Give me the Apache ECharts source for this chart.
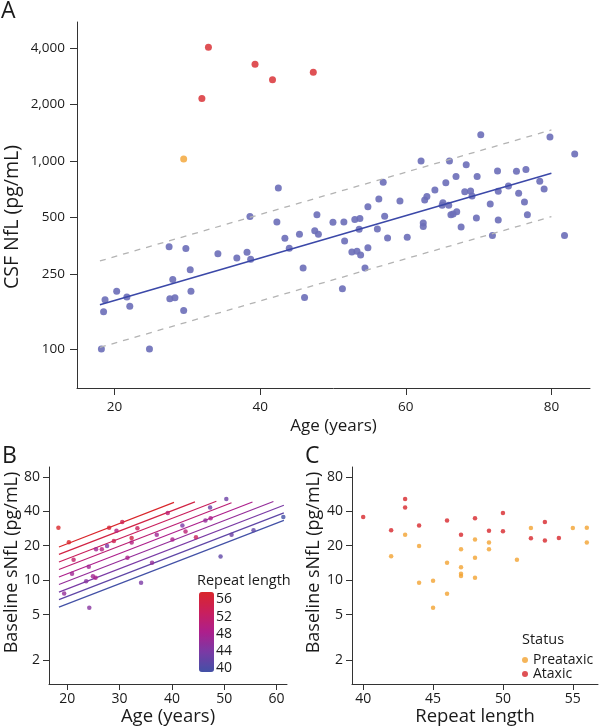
<!DOCTYPE html>
<html><head><meta charset="utf-8">
<script src="https://cdn.jsdelivr.net/npm/echarts@6/dist/echarts.min.js"></script>
<style>html,body{margin:0;padding:0;background:#fff}#c{width:600px;height:728px}</style>
</head><body><div id="c"></div>
<script>
const FONT = '"Open Sans", "Noto Sans", sans-serif';
const INK = '#1a1a1a';

// ---------- Panel A: CSF NfL vs age ----------
const aAge = [18.2,18.7,18.5,20.3,21.7,22.1,24.8,27.5,27.6,28.3,28.0,29.5,29.8,30.4,30.5,34.2,36.8,38.2,38.7,38.6,42.3,43.4,44.0,45.4,42.5,
  45.9,46.1,47.5,48.0,47.8,50.0,51.5,51.6,51.3,52.6,53.3,53.8,54.4,53.0,53.7,53.6,54.8,54.8,56.3,56.1,56.9,57.1,57.5,59.2,60.2,
  62.1,62.4,62.4,62.6,62.9,64.0,65.1,65.0,65.9,65.5,66.0,66.2,66.5,67.0,67.6,66.9,68.1,68.3,68.9,69.1,69.8,69.7,70.3,71.6,71.9,
  72.6,72.7,72.7,74.1,75.2,75.5,76.3,76.5,76.7,78.4,79.0,79.8,81.8,83.2];
const aVal = [100,183,158,203,189,169,100,350,185,187,234,160,342,264,203,321,305,327,300,506,474,388,343,408,718,
  270,188,425,408,518,472,474,375,209,328,331,316,270,489,494,433,571,346,628,435,771,508,389,612,393,
  1000,468,448,621,648,701,600,581,581,767,1000,518,523,537,446,826,687,955,692,652,826,497,1380,590,401,
  885,690,486,736,881,673,605,900,518,780,710,1343,401,1089];
const redAge = [32.9,32.0,39.3,41.7,47.3];
const redVal = [4027,2153,3266,2706,2965];
const orangeAge = [29.5];
const orangeVal = [1025];
const fitAge = [18, 80];
const fitVal = [172, 861];
const upperVal = [294, 1462];
const lowerVal = [102, 506];
const aXTicks = [20, 40, 60, 80];
const aYTicks = [100, 250, 500, 1000, 2000, 4000];

// ---------- Panel B: baseline sNfL vs age, by repeat length ----------
const bAge = [18.3,20.3,21.2,20.9,19.4,24.1,23.6,24.9,25.4,24.2,25.5,26.6,27.6,28.0,28.9,29.4,30.5,31.5,32.3,32.3,33.4,34.1,36.2,37.1,39.2,40.1,42.0,42.6,44.6,46.4,47.3,47.4,49.3,50.4,51.4,55.6,61.3];
const bVal = [28.8,21.5,15.1,11.4,7.65,13.1,9.8,10.8,10.5,5.74,18.6,18.6,19.9,28.8,22.0,27.1,32.3,15.7,23.4,21.3,28.5,9.5,14.2,25.0,38.7,22.7,30.0,26.6,23.7,33.2,43.1,34.8,16.1,51.3,25.0,27.3,35.7];
const bRepeat = [56,56,51,47,46,47,45,47,48,45,47,49,44,55,53,49,53,48,54,49,52,44,46,47,50,48,44,50,52,46,43,48,42,43,43,42,40];
const lineRepeat = [40,42,44,46,48,50,52,54,56];
const lineStartAge = [18.4,18.4,18.4,18.4,18.4,18.4,18.4,18.4,18.4];
const lineStartVal = [5.81,6.76,7.87,9.16,10.67,12.4,14.4,16.8,19.5];
const lineEndAge = [61.4,61.4,61.4,59.4,55.4,51.4,48.5,44.4,40.4];
const lineEndVal = [33.3,38.8,45.2,48.7,48.2,47.5,49.0,48.4,47.9];
const bXTicks = [20, 30, 40, 50, 60];
const sYTicks = [2, 5, 10, 20, 40, 80];
const colorbarTicks = [56, 52, 48, 44, 40];

// ---------- Panel C: baseline sNfL vs repeat length, by status ----------
const cAtaxicRepeat = [40,42,43,43,44,46,47,48,49,50,50,52,53,53,54];
const cAtaxicVal = [35.7,27.3,51.3,43.1,30.0,33.2,25.0,34.8,27.1,38.7,26.8,23.2,32.3,22.2,23.4];
const cPreRepeat = [42,43,44,44,45,45,46,46,47,47,47,47,48,48,48,49,49,51,52,55,56,56];
const cPreVal = [16.2,25.0,19.9,9.5,9.87,5.74,14.2,7.6,18.6,13.0,11.4,10.9,22.7,15.7,10.5,21.3,18.6,15.1,28.6,28.6,28.8,21.3];
const cXTicks = [40, 45, 50, 55];

const repeatColors = ['#4351a6', '#7a3aa5', '#ad1f8c', '#c91f5c', '#d9262b'];
const RED = '#d7262b', ORANGE = '#f2a231', BLUEPT = '#6c6eb8', BLUELINE = '#3b48a8';

const zip = (a, b) => a.map((v, i) => [v, b[i]]);
const fmtThousands = v => String(v).replace(/\B(?=(\d{3})+(?!\d))/g, ',');

function axisBase(ticks, fs, margin, tickLen, nameFs, namePad) {
  return {
    axisLine: { show: true, onZero: false, lineStyle: { color: '#333', width: 1 } },
    axisTick: { show: true, customValues: ticks, length: tickLen, lineStyle: { color: '#333', width: 1 } },
    axisLabel: { show: true, customValues: ticks, fontSize: fs, color: INK, fontFamily: FONT, margin: margin },
    splitLine: { show: false },
    nameMoveOverlap: false,
    nameTextStyle: { fontSize: nameFs, color: INK, fontFamily: FONT, padding: namePad || 0 }
  };
}

const chart = echarts.init(document.getElementById('c'), null, { renderer: 'canvas' });

const xA = Object.assign(axisBase(aXTicks, 13.5, 12, 7, 17), { type: 'value', gridIndex: 0, min: 14.85, max: 85.3, name: 'Age (years)', nameLocation: 'middle', nameGap: 30 });
const yA = Object.assign(axisBase(aYTicks, 13.5, 12, 7, 19.5, [0, 24, 0, 0]), { type: 'log', gridIndex: 0, min: 62, max: 5487, name: 'CSF NfL (pg/mL)', nameLocation: 'middle', nameGap: 55 });
yA.axisLabel.formatter = v => fmtThousands(v);

const xB = Object.assign(axisBase(bXTicks, 14, 8, 6, 18.5), { type: 'value', gridIndex: 1, min: 16.5, max: 62, name: 'Age (years)', nameLocation: 'middle', nameGap: 23 });
const yB = Object.assign(axisBase(sYTicks, 14, 9, 6, 18, [0, 0, 0, 26]), { type: 'log', gridIndex: 1, min: 1.237, max: 97.6, name: 'Baseline sNfL (pg/mL)', nameLocation: 'middle', nameGap: 28 });

const xC = Object.assign(axisBase(cXTicks, 14, 8, 6, 18.5), { type: 'value', gridIndex: 2, min: 39.2, max: 56.8, name: 'Repeat length', nameLocation: 'middle', nameGap: 23 });
const yC = Object.assign(axisBase(sYTicks, 14, 9, 6, 18, [0, 0, 0, 26]), { type: 'log', gridIndex: 2, min: 1.237, max: 97.6, name: 'Baseline sNfL (pg/mL)', nameLocation: 'middle', nameGap: 29 });

const bLines = lineRepeat.map((r, i) => ({ coords: [[lineStartAge[i], lineStartVal[i]], [lineEndAge[i], lineEndVal[i]]], value: r }));

const graphics = [
  { type: 'text', left: 1, top: 0, style: { text: 'A', fontSize: 23, fill: INK, fontFamily: FONT } },
  { type: 'text', left: 2, top: 445, style: { text: 'B', fontSize: 23, fill: INK, fontFamily: FONT } },
  { type: 'text', left: 305, top: 445, style: { text: 'C', fontSize: 23, fill: INK, fontFamily: FONT } },
  { type: 'text', left: 197, top: 573, style: { text: 'Repeat length', fontSize: 14.5, fill: INK, fontFamily: FONT } },
  { type: 'text', left: 522, top: 632, style: { text: 'Status', fontSize: 14.5, fill: INK, fontFamily: FONT } }
];
colorbarTicks.forEach((t, i) => {
  graphics.push({ type: 'text', x: 216, y: 599.3 + i * 17.25, style: { text: String(t), fontSize: 14, fill: INK, fontFamily: FONT, verticalAlign: 'middle' } });
});

chart.setOption({
  animation: false,
  backgroundColor: '#fff',
  textStyle: { fontFamily: FONT },
  grid: [
    { left: 77, top: 22, width: 513, height: 366, outerBoundsMode: 'none', containLabel: false },
    { left: 49, top: 467, width: 238, height: 217, outerBoundsMode: 'none', containLabel: false },
    { left: 352, top: 467, width: 246, height: 217, outerBoundsMode: 'none', containLabel: false }
  ],
  xAxis: [xA, xB, xC],
  yAxis: [yA, yB, yC],
  legend: {
    data: ['Preataxic', 'Ataxic'], orient: 'vertical', left: 522, top: 653, padding: 0, itemGap: 0,
    itemWidth: 6, itemHeight: 6, icon: 'circle',
    textStyle: { fontSize: 14, lineHeight: 13, color: INK, fontFamily: FONT }
  },
  visualMap: [
    { type: 'continuous', min: 40, max: 56, seriesIndex: [5], dimension: 2, calculable: false, show: true,
      left: 199, top: 592, itemWidth: 15, itemHeight: 80, padding: 0, text: null, showLabel: false,
      inRange: { color: repeatColors } },
    { type: 'continuous', min: 40, max: 56, seriesIndex: [4], show: false, inRange: { color: repeatColors } }
  ],
  graphic: graphics,
  series: [
    { type: 'line', xAxisIndex: 0, yAxisIndex: 0, data: zip(fitAge, upperVal), symbol: 'none', lineStyle: { color: '#b3b3b3', width: 1.3, type: [6, 6] }, silent: true },
    { type: 'line', xAxisIndex: 0, yAxisIndex: 0, data: zip(fitAge, lowerVal), symbol: 'none', lineStyle: { color: '#b3b3b3', width: 1.3, type: [6, 6] }, silent: true },
    { type: 'scatter', xAxisIndex: 0, yAxisIndex: 0, data: zip(aAge, aVal), symbolSize: 7, itemStyle: { color: BLUEPT, opacity: 0.9 } },
    { type: 'line', xAxisIndex: 0, yAxisIndex: 0, data: zip(fitAge, fitVal), symbol: 'none', lineStyle: { color: BLUELINE, width: 1.6 }, silent: true, z: 3 },
    { type: 'lines', coordinateSystem: 'cartesian2d', xAxisIndex: 1, yAxisIndex: 1, data: bLines, lineStyle: { width: 1.2, opacity: 1 }, silent: true },
    { type: 'scatter', xAxisIndex: 1, yAxisIndex: 1, data: bAge.map((a, i) => [a, bVal[i], bRepeat[i]]), symbolSize: 4.5, z: 4 },
    { type: 'scatter', xAxisIndex: 0, yAxisIndex: 0, data: zip(redAge, redVal), symbolSize: 7, itemStyle: { color: RED } },
    { type: 'scatter', xAxisIndex: 0, yAxisIndex: 0, data: zip(orangeAge, orangeVal), symbolSize: 7, itemStyle: { color: ORANGE } },
    { name: 'Preataxic', type: 'scatter', xAxisIndex: 2, yAxisIndex: 2, data: zip(cPreRepeat, cPreVal), symbolSize: 4.5, itemStyle: { color: ORANGE } },
    { name: 'Ataxic', type: 'scatter', xAxisIndex: 2, yAxisIndex: 2, data: zip(cAtaxicRepeat, cAtaxicVal), symbolSize: 4.5, itemStyle: { color: RED } }
  ]
});
</script></body></html>
